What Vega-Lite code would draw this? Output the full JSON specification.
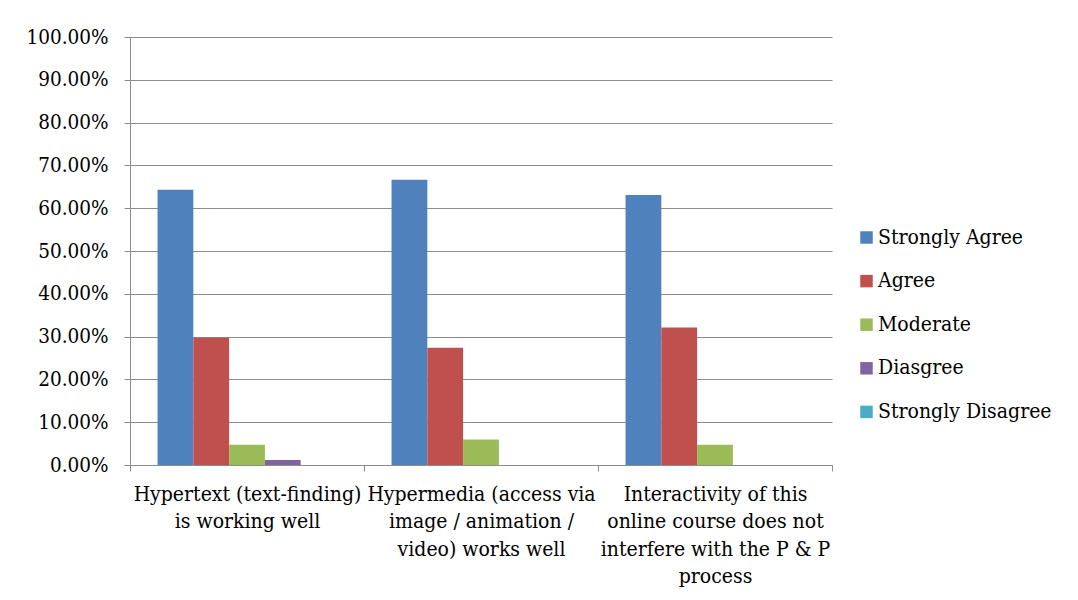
{
  "$schema": "https://vega.github.io/schema/vega-lite/v6.json",
  "width": 702,
  "height": 428,
  "autosize": {"type": "none"},
  "padding": {"left": 130, "top": 37, "right": 246, "bottom": 135},
  "background": "white",
  "data": {
    "values": [
      {"q": "Hypertext (text-finding)|is working well", "r": "Strongly Agree", "v": 0.6429},
      {"q": "Hypertext (text-finding)|is working well", "r": "Agree", "v": 0.2976},
      {"q": "Hypertext (text-finding)|is working well", "r": "Moderate", "v": 0.0476},
      {"q": "Hypertext (text-finding)|is working well", "r": "Diasgree", "v": 0.0119},
      {"q": "Hypertext (text-finding)|is working well", "r": "Strongly Disagree", "v": 0},
      {"q": "Hypermedia (access via|image / animation /|video) works well", "r": "Strongly Agree", "v": 0.6667},
      {"q": "Hypermedia (access via|image / animation /|video) works well", "r": "Agree", "v": 0.2738},
      {"q": "Hypermedia (access via|image / animation /|video) works well", "r": "Moderate", "v": 0.0595},
      {"q": "Hypermedia (access via|image / animation /|video) works well", "r": "Diasgree", "v": 0},
      {"q": "Hypermedia (access via|image / animation /|video) works well", "r": "Strongly Disagree", "v": 0},
      {"q": "Interactivity of this|online course does not|interfere with the P & P|process", "r": "Strongly Agree", "v": 0.631},
      {"q": "Interactivity of this|online course does not|interfere with the P & P|process", "r": "Agree", "v": 0.3214},
      {"q": "Interactivity of this|online course does not|interfere with the P & P|process", "r": "Moderate", "v": 0.0476},
      {"q": "Interactivity of this|online course does not|interfere with the P & P|process", "r": "Diasgree", "v": 0},
      {"q": "Interactivity of this|online course does not|interfere with the P & P|process", "r": "Strongly Disagree", "v": 0}
    ]
  },
  "mark": {"type": "bar"},
  "encoding": {
    "x": {
      "field": "q",
      "type": "nominal",
      "sort": null,
      "scale": {"paddingInner": 0, "paddingOuter": 0},
      "axis": {
        "title": null,
        "labelAngle": 0,
        "labelExpr": "split(datum.label, '|')",
        "labelFont": "DejaVu Serif Condensed",
        "labelFontSize": 21,
        "labelColor": "black",
        "labelLineHeight": 27.6,
        "labelPadding": 12,
        "labelLimit": 0,
        "tickBand": "extent",
        "tickSize": 6,
        "tickColor": "#8c8c8c",
        "domainColor": "#8c8c8c",
        "grid": false
      }
    },
    "xOffset": {
      "field": "r",
      "type": "nominal",
      "sort": ["Strongly Agree", "Agree", "Moderate", "Diasgree", "Strongly Disagree"],
      "scale": {"paddingInner": 0, "paddingOuter": 0.77}
    },
    "y": {
      "field": "v",
      "type": "quantitative",
      "scale": {"domain": [0, 1]},
      "axis": {
        "title": null,
        "format": ".2%",
        "values": [0, 0.1, 0.2, 0.3, 0.4, 0.5, 0.6, 0.7, 0.8, 0.9, 1],
        "labelFont": "DejaVu Serif Condensed",
        "labelFontSize": 20.5,
        "labelColor": "black",
        "labelPadding": 16,
        "tickSize": 6,
        "tickColor": "#8c8c8c",
        "domainColor": "#8c8c8c",
        "gridColor": "#8c8c8c",
        "gridWidth": 1,
        "gridOpacity": 1
      }
    },
    "color": {
      "field": "r",
      "type": "nominal",
      "sort": ["Strongly Agree", "Agree", "Moderate", "Diasgree", "Strongly Disagree"],
      "scale": {
        "domain": ["Strongly Agree", "Agree", "Moderate", "Diasgree", "Strongly Disagree"],
        "range": ["#4F81BD", "#C0504D", "#9BBB59", "#8064A2", "#4BACC6"]
      },
      "legend": {
        "title": null,
        "orient": "none",
        "legendX": 726,
        "legendY": 190,
        "padding": 0,
        "symbolType": "square",
        "symbolSize": 156,
        "symbolStrokeWidth": 0,
        "labelFont": "DejaVu Serif Condensed",
        "labelFontSize": 21,
        "labelColor": "black",
        "labelOffset": 1,
        "rowPadding": 21.6,
        "labelLimit": 0
      }
    }
  },
  "config": {
    "view": {"stroke": null}
  }
}
